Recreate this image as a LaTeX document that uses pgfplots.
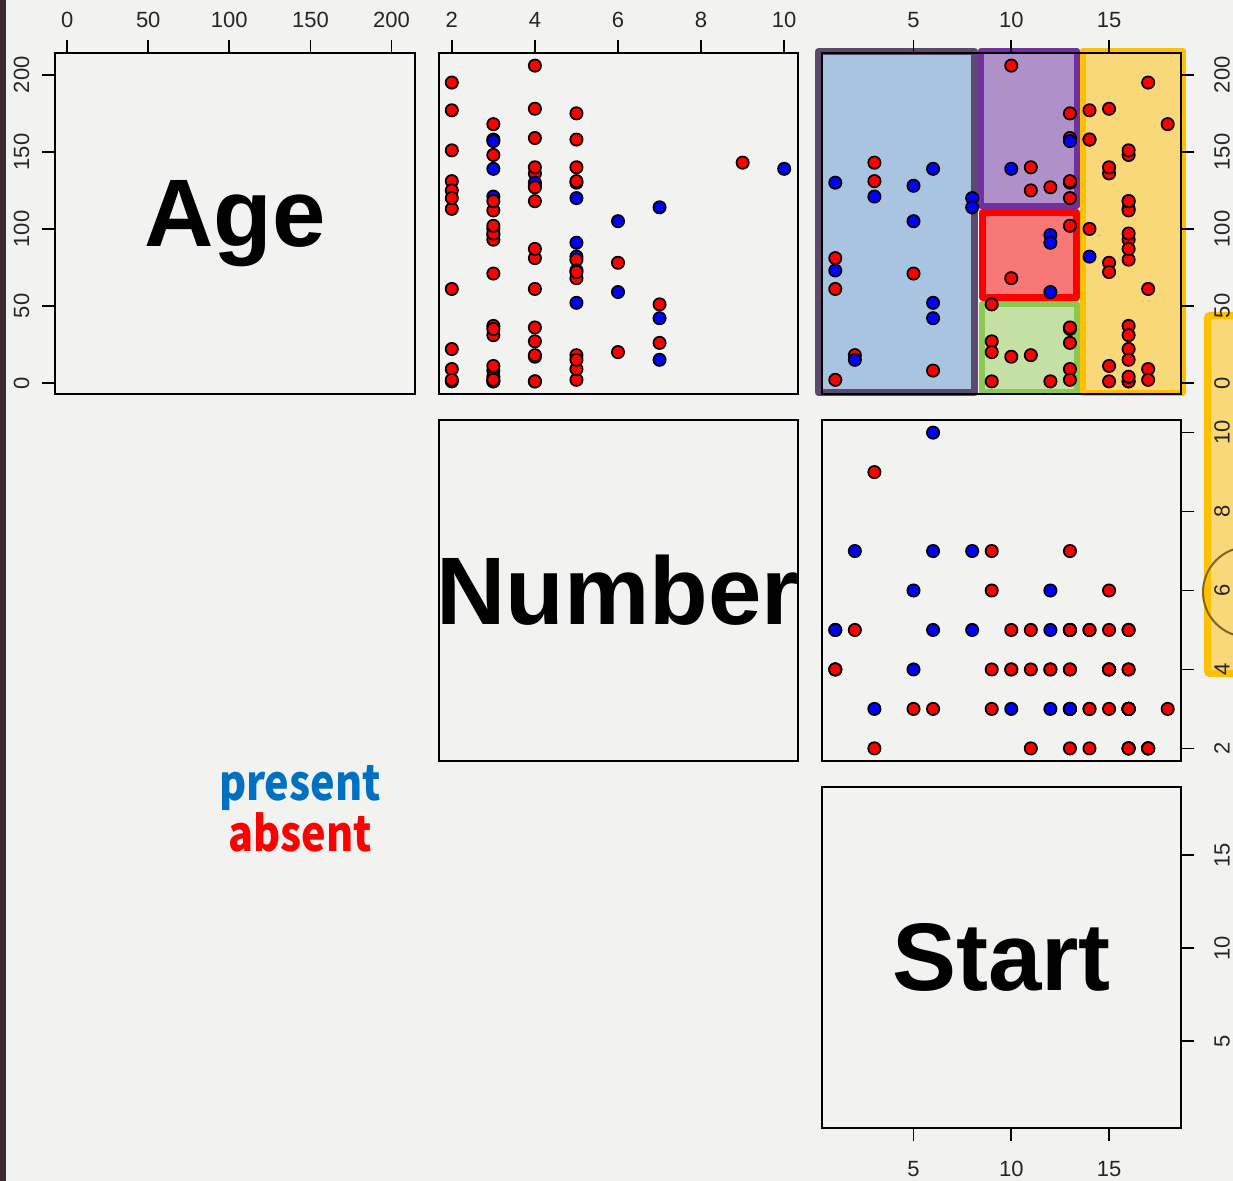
\documentclass[border=0pt]{standalone}
\usepackage{pgfplots}
\pgfplotsset{compat=1.18}
\usepackage{pgfplotstable}
\usepackage{graphicx}
\usepackage{fontspec}
\setmainfont{Liberation Sans}
\newfontfamily\legfont{Noto Sans CJK SC}

\definecolor{bgc}{HTML}{F2F2F0}
\definecolor{stripc}{HTML}{3E2830}
\definecolor{absc}{HTML}{FF0000}
\definecolor{presc}{HTML}{0000FF}
\definecolor{legblue}{HTML}{0070C0}
\definecolor{legred}{HTML}{FF0000}
\definecolor{bluefill}{HTML}{A8C4E0}
\definecolor{blueborder}{HTML}{5C4A6E}
\definecolor{purplefill}{HTML}{B090C8}
\definecolor{purpleborder}{HTML}{7030A0}
\definecolor{redfill}{HTML}{F87878}
\definecolor{redborder}{HTML}{FF0000}
\definecolor{greenfill}{HTML}{C4E0A4}
\definecolor{greenborder}{HTML}{8CC850}
\definecolor{yellowfill}{HTML}{F8D878}
\definecolor{yellowborder}{HTML}{FFC000}
\definecolor{circc}{HTML}{7D6622}

\pgfplotstableread{
Age Number Start K
71 3 5 a
158 3 14 a
128 4 5 p
2 5 1 a
1 4 15 a
1 2 16 a
61 2 17 a
37 3 16 a
113 2 16 a
59 6 12 p
82 5 14 p
148 3 16 a
18 5 2 a
1 4 12 a
168 3 18 a
1 3 16 a
78 6 15 a
175 5 13 a
80 5 16 a
27 4 9 a
22 2 16 a
105 6 5 p
96 3 12 p
131 2 3 a
15 7 2 p
9 5 13 a
8 3 6 a
100 3 14 a
4 3 16 a
151 2 16 a
31 3 16 a
125 2 11 a
130 5 13 a
112 3 16 a
140 5 11 a
93 3 16 a
1 3 9 a
52 5 6 p
20 6 9 a
91 5 12 p
73 5 1 p
35 3 13 a
143 9 3 a
61 4 1 a
97 3 16 a
139 3 10 p
136 4 15 a
131 5 13 a
121 3 3 p
177 2 14 a
68 5 10 a
9 2 17 a
139 10 6 p
2 2 17 a
140 4 15 a
72 5 15 a
2 3 13 a
120 5 8 p
51 7 9 a
102 3 13 a
130 4 1 p
114 7 8 p
81 4 1 a
118 3 16 a
118 4 16 a
17 4 10 a
195 2 17 a
159 4 13 a
18 4 11 a
15 5 16 a
158 5 14 a
127 4 12 a
87 4 16 a
206 4 10 a
11 3 15 a
178 4 15 a
157 3 13 p
26 7 13 a
120 2 13 a
42 7 6 p
36 4 13 a
}\kyph

\pgfplotsset{
  spm/.style={
    scale only axis, width=269.25pt, height=255.75pt, anchor=north west,
    clip=false, axis on top,
    axis line style={line width=1.5pt, black},
    tick align=outside, major tick length=10pt,
    every tick/.style={black, line width=1.3pt},
    xtick=\empty, ytick=\empty,
    ticklabel style={font=\fontsize{16.5}{19}\selectfont, text=black!85},
    /pgf/number format/assume math mode=true,
  },
  ageX/.style={xmin=-7.2,xmax=214.2}, ageY/.style={ymin=-7.2,ymax=214.2},
  numX/.style={xmin=1.68,xmax=10.32}, numY/.style={ymin=1.68,ymax=10.32},
  stX/.style={xmin=0.32,xmax=18.68}, stY/.style={ymin=0.32,ymax=18.68},
  toplab/.style={xtick pos=right, xticklabel pos=right, xticklabel shift=5.5pt},
  botlab/.style={xtick pos=left, xticklabel pos=left, xticklabel shift=11.5pt},
  leftlab/.style={ytick pos=left, yticklabel shift=6pt, yticklabel style={rotate=90, anchor=south}},
  rightlab/.style={ytick pos=right, yticklabel pos=right, yticklabel shift=11.5pt,
    yticklabel style={rotate=90, anchor=north}},
  pts/.style={only marks, scatter, scatter src=explicit symbolic,
    scatter/classes={a={mark=*,fill=absc,draw=black,line width=1.3pt},
                     p={mark=*,fill=presc,draw=black,line width=1.3pt}},
    mark size=4.6pt},
  region/.style={forget plot, mark=none, line join=round, line cap=round},
}
\tikzset{diaglab/.style={font=\fontsize{72}{80}\selectfont\bfseries}}

\begin{document}
\begin{tikzpicture}
\useasboundingbox (0,0) rectangle (924.75pt,-885.75pt);
\fill[bgc] (0,0) rectangle (924.75pt,-885.75pt);
\fill[stripc] (0,0) rectangle (4.5pt,-885.75pt);
% overlay at right edge
\filldraw[fill=yellowfill, draw=yellowborder, line width=5.25pt, rounded corners=2pt]
  (905.6pt,-236.6pt) rectangle (945pt,-505.1pt);
\draw[circc, line width=1.5pt] (936pt,-444pt) circle (33.75pt);

% Row 1, col 1: Age
\begin{axis}[spm, at={(41.625pt,-39.75pt)}, ageX, ageY,
  xtick={0,50,...,200}, toplab,
  ytick={0,50,...,200}, leftlab]
\node[diaglab] at (rel axis cs:0.5,0.5) {Age};
\end{axis}

% Row 1, col 2
\begin{axis}[spm, at={(328.875pt,-39.75pt)}, numX, ageY,
  xtick={2,4,...,10}, toplab]
\addplot[pts] table[x=Number, y=Age, meta=K] {\kyph};
\end{axis}

% Row 1, col 3
\begin{axis}[spm, at={(616.5pt,-39.75pt)}, stX, ageY,
  xtick={5,10,15}, toplab,
  ytick={0,50,...,200}, rightlab]
\addplot[region, fill=bluefill, draw=blueborder, line width=5.25pt]
  coordinates {(0.141,-6.23) (8.119,-6.23) (8.119,215.18) (0.141,215.18) (0.141,-6.23)};
\addplot[region, fill=purplefill, draw=purpleborder, line width=4.5pt]
  coordinates {(8.451,114.87) (13.361,114.87) (13.361,215.5) (8.451,215.5) (8.451,114.87)};
\addplot[region, fill=greenfill, draw=greenborder, line width=4.5pt]
  coordinates {(8.502,-5.90) (13.361,-5.90) (13.361,51.24) (8.502,51.24) (8.502,-5.90)};
\addplot[region, fill=redfill, draw=redborder, line width=5.25pt]
  coordinates {(8.528,55.46) (13.335,55.46) (13.335,110.65) (8.528,110.65) (8.528,55.46)};
\addplot[region, fill=yellowfill, draw=yellowborder, line width=4.5pt]
  coordinates {(13.668,-6.55) (18.782,-6.55) (18.782,215.5) (13.668,215.5) (13.668,-6.55)};
\addplot[pts] table[x=Start, y=Age, meta=K] {\kyph};
\end{axis}

% Row 2, col 2: Number
\begin{axis}[spm, at={(328.875pt,-315pt)}, numX, numY]
\node[diaglab] at (rel axis cs:0.5,0.5) {Number};
\end{axis}

% Row 2, col 3
\begin{axis}[spm, at={(616.5pt,-315pt)}, stX, numY,
  ytick={2,4,...,10}, rightlab]
\addplot[pts] table[x=Start, y=Number, meta=K] {\kyph};
\end{axis}

% Row 3, col 3: Start
\begin{axis}[spm, at={(616.5pt,-590.25pt)}, stX, stY,
  xtick={5,10,15}, botlab,
  ytick={5,10,15}, rightlab]
\node[diaglab] at (rel axis cs:0.5,0.5) {Start};
\end{axis}

% legend text
\node[anchor=base, text=legblue, inner sep=0pt] at (225pt,-600pt)
  {\scalebox{0.85}[1]{\legfont\bfseries\fontsize{36.5}{40}\selectfont present}};
\node[anchor=base, text=legred, inner sep=0pt] at (225pt,-638.25pt)
  {\scalebox{0.85}[1]{\legfont\bfseries\fontsize{36.5}{40}\selectfont absent}};
\end{tikzpicture}
\end{document}
